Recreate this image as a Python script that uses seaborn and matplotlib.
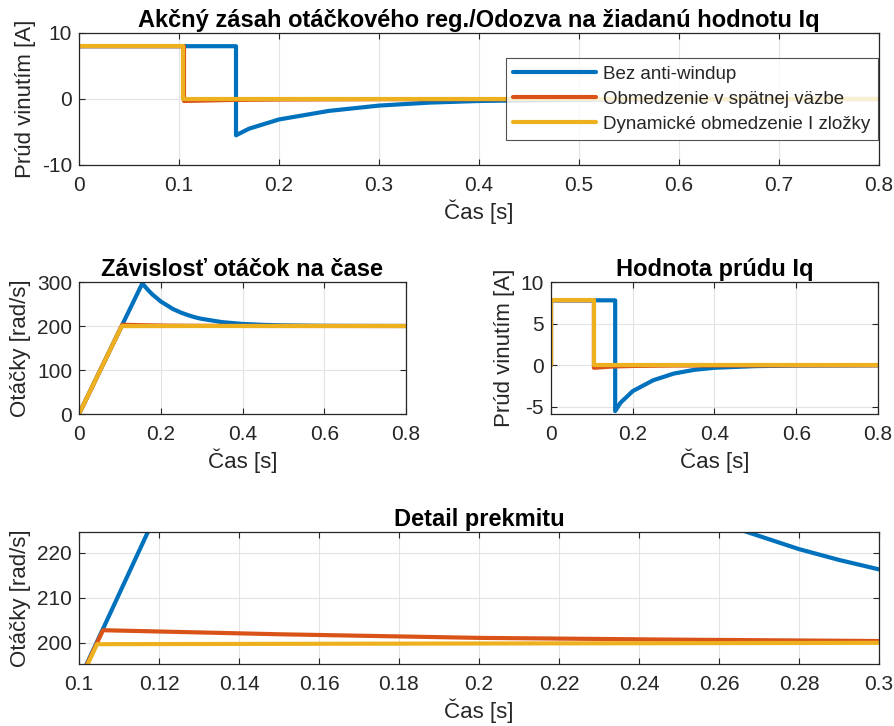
import matplotlib
matplotlib.use("Agg")
import matplotlib.pyplot as plt
from matplotlib.ticker import FormatStrFormatter
import pandas as pd
import seaborn as sns

# series names (legend)
names = ['Bez anti-windup', 'Obmedzenie v spätnej väzbe', 'Dynamické obmedzenie I zložky']
colors = ['#0072BD', '#D95319', '#EDB120']

# speed [rad/s]
t_w_blue = [0, 0.155, 0.16, 0.17, 0.18, 0.2, 0.23, 0.25, 0.267, 0.28, 0.29, 0.3, 0.35, 0.4, 0.45, 0.5, 0.6, 0.7, 0.8]
w_blue = [0, 297, 291.2, 280.7, 271.3, 255.8, 238.5, 230.2, 224.6, 220.8, 218.4, 216.3, 208.8, 204.7, 202.6, 201.4, 200.4, 200.1, 200]
t_w_red = [0, 0.1045, 0.106, 0.15, 0.2, 0.25, 0.3, 0.4, 0.5, 0.8]
w_red = [0, 200, 202.8, 201.9, 201.1, 200.7, 200.4, 200.15, 200.05, 200]
t_w_yel = [0, 0.1045, 0.2, 0.3, 0.8]
w_yel = [0, 199.7, 199.85, 200, 200]

# control action (current reference) [A]
t_u_blue = [0, 0.157, 0.157, 0.17, 0.2, 0.25, 0.3, 0.35, 0.4, 0.5, 0.6, 0.8]
u_blue = [8, 8, -5.5, -4.5, -3.1, -1.8, -1.0, -0.55, -0.3, -0.1, -0.03, 0]
t_u_red = [0, 0.105, 0.105, 0.15, 0.2, 0.3, 0.8]
u_red = [8, 8, -0.3, -0.15, -0.08, -0.03, 0]
t_u_yel = [0, 0.104, 0.104, 0.8]
u_yel = [8, 8, 0, 0]

# measured current Iq [A]
t_i_blue = [0, 0, 0.157, 0.157, 0.17, 0.2, 0.25, 0.3, 0.35, 0.4, 0.5, 0.6, 0.8]
i_blue = [0, 7.8, 7.8, -5.5, -4.5, -3.1, -1.8, -1.0, -0.55, -0.3, -0.1, -0.03, 0]
t_i_red = [0, 0, 0.105, 0.105, 0.15, 0.2, 0.3, 0.8]
i_red = [0, 7.8, 7.8, -0.3, -0.15, -0.08, -0.03, 0]
t_i_yel = [0, 0, 0.104, 0.104, 0.8]
i_yel = [0, 7.8, 7.8, 0, 0]


def make_df(ts, vs):
    frames = []
    for n, t, v in zip(names, ts, vs):
        frames.append(pd.DataFrame({'t': t, 'v': v, 'name': n}))
    return pd.concat(frames, ignore_index=True)


df_u = make_df([t_u_blue, t_u_red, t_u_yel], [u_blue, u_red, u_yel])
df_w = make_df([t_w_blue, t_w_red, t_w_yel], [w_blue, w_red, w_yel])
df_i = make_df([t_i_blue, t_i_red, t_i_yel], [i_blue, i_red, i_yel])

sns.set_theme(style="whitegrid")
plt.rcParams['font.family'] = ['Liberation Sans', 'DejaVu Sans']
plt.rcParams['axes.unicode_minus'] = False
plt.rcParams['axes.edgecolor'] = '#262626'
plt.rcParams['grid.color'] = '#e3e3e3'
plt.rcParams['grid.linewidth'] = 0.8

W, H = 895, 726
fig = plt.figure(figsize=(W / 100, H / 100), dpi=100)


def box(l, r, top, bot):
    return [l / W, 1 - bot / H, (r - l) / W, (bot - top) / H]


def style(ax, title, ylab, xfmt='%g'):
    ax.set_title(title, fontsize=17, fontweight='bold', color='black', pad=4)
    ax.set_xlabel('Čas [s]', fontsize=16, color='#262626', labelpad=3)
    ax.set_ylabel(ylab, fontsize=16, color='#262626', labelpad=4)
    ax.tick_params(direction='in', length=4, width=0.8, colors='#262626', labelsize=15,
                   top=True, right=True, bottom=True, left=True, pad=5)
    ax.tick_params(axis='x', pad=8)
    ax.xaxis.set_major_formatter(FormatStrFormatter(xfmt))
    for s in ax.spines.values():
        s.set_linewidth(0.9)
        s.set_color('#262626')


def draw(ax, df):
    sns.lineplot(data=df, x='t', y='v', hue='name', estimator=None, sort=False,
                 palette=colors, linewidth=3, ax=ax, legend=True)


ax1 = fig.add_axes(box(79, 879, 33, 165))
draw(ax1, df_u)
ax1.set_xlim(0, 0.8)
ax1.set_ylim(-10, 10)
ax1.set_xticks([0, 0.1, 0.2, 0.3, 0.4, 0.5, 0.6, 0.7, 0.8])
ax1.set_yticks([-10, 0, 10])
style(ax1, 'Akčný zásah otáčkového reg./Odozva na žiadanú hodnotu Iq', 'Prúd vinutím [A]')
leg = ax1.legend(loc='upper right', bbox_to_anchor=(0.999, 0.81), fontsize=13.5,
                 handlelength=4.4, frameon=True, fancybox=False, borderpad=0.4,
                 labelspacing=0.42, handletextpad=0.4, borderaxespad=0)
leg.get_frame().set_edgecolor('#262626')
leg.get_frame().set_linewidth(0.8)
for line in leg.get_lines():
    line.set_linewidth(3)

ax2 = fig.add_axes(box(79, 406, 282, 414))
draw(ax2, df_w)
ax2.set_xlim(0, 0.8)
ax2.set_ylim(0, 300)
ax2.set_xticks([0, 0.2, 0.4, 0.6, 0.8])
ax2.set_yticks([0, 100, 200, 300])
style(ax2, 'Závislosť otáčok na čase', 'Otáčky [rad/s]')
ax2.get_legend().remove()

ax3 = fig.add_axes(box(551, 878, 282, 414))
draw(ax3, df_i)
ax3.set_xlim(0, 0.8)
ax3.set_ylim(-5.85, 10)
ax3.set_xticks([0, 0.2, 0.4, 0.6, 0.8])
ax3.set_yticks([-5, 0, 5, 10])
style(ax3, 'Hodnota prúdu Iq', 'Prúd vinutím [A]')
ax3.get_legend().remove()

ax4 = fig.add_axes(box(79, 879, 532, 664))
draw(ax4, df_w)
ax4.set_xlim(0.1, 0.3)
ax4.set_ylim(195.3, 224.6)
ax4.set_xticks([0.1, 0.12, 0.14, 0.16, 0.18, 0.2, 0.22, 0.24, 0.26, 0.28, 0.3])
ax4.set_yticks([200, 210, 220])
style(ax4, 'Detail prekmitu', 'Otáčky [rad/s]')
ax4.get_legend().remove()

fig.savefig('out.png', dpi=100)
